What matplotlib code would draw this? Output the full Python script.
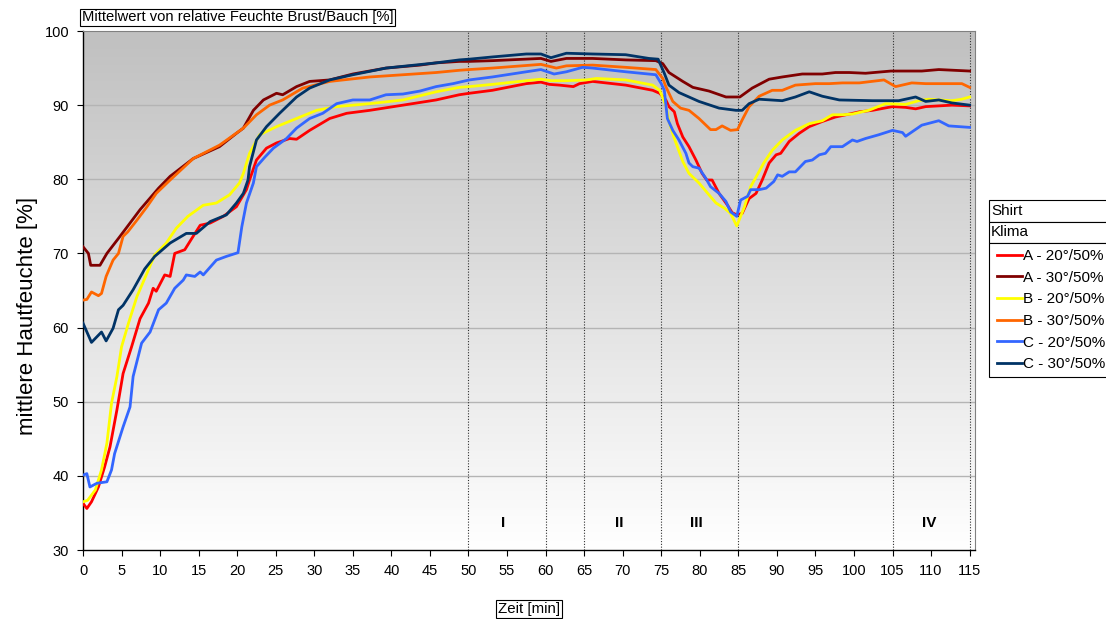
import numpy as np
import matplotlib
matplotlib.use("Agg")
import matplotlib.pyplot as plt
from matplotlib.colors import LinearSegmentedColormap
from matplotlib.patches import Rectangle

plt.rcParams['font.family'] = ['Liberation Sans', 'DejaVu Sans']

# Zeitachse [min] und mittlere Hautfeuchte [%] je Shirt/Klima
t_a20 = [0, 0.5, 1.1, 2.0, 2.8, 3.5, 4.4, 5.2, 6.3, 7.4, 8.5, 9.1, 9.5, 10.6, 11.3, 11.9,
         13.2, 14.1, 15.2, 16.5, 18.2, 19.9, 21.2, 21.6, 22.5, 23.8, 25.1, 26.8, 27.7, 29.4,
         32.0, 34.2, 37.2, 41.5, 45.8, 48.8, 50.1, 53.1, 57.5, 59.4, 60.5, 61.8, 63.6, 64.4,
         66.1, 70.4, 73.9, 74.8, 75.6, 76.0, 76.7, 77.1, 77.8, 78.6, 79.5, 80.3, 80.9, 81.6,
         82.5, 83.6, 84.2, 84.8, 85.5, 86.4, 87.3, 88.1, 89.0, 89.9, 90.5, 91.6, 92.9, 94.2,
         95.9, 97.6, 99.4, 100.7, 102.4, 105.0, 106.7, 108.0, 109.3, 111.0, 112.7, 115.0]
h_a20 = [36.3, 35.6, 36.5, 38.5, 41.2, 43.9, 48.9, 53.8, 57.4, 61.2, 63.3, 65.3, 64.9, 67.1, 66.9, 70.0,
         70.5, 72.0, 73.8, 74.1, 75.0, 76.3, 78.6, 79.9, 82.6, 84.2, 84.9, 85.5, 85.4, 86.6,
         88.2, 88.9, 89.3, 90.0, 90.7, 91.4, 91.6, 92.0, 92.9, 93.1, 92.8, 92.7, 92.5, 92.9,
         93.2, 92.7, 92.0, 91.6, 90.7, 89.8, 89.1, 87.5, 85.7, 84.4, 82.6, 80.8, 79.9, 79.9,
         78.1, 76.5, 75.5, 75.2, 75.4, 77.4, 78.1, 79.9, 82.2, 83.3, 83.5, 85.1, 86.2, 87.1,
         87.8, 88.4, 88.8, 89.1, 89.3, 89.8, 89.7, 89.5, 89.8, 89.9, 90.0, 89.9]

t_a30 = [0, 0.7, 1.0, 2.2, 3.1, 4.8, 7.4, 9.8, 11.3, 14.3, 17.7, 19.9, 20.8, 22.1, 23.4, 25.1,
         25.9, 27.7, 29.4, 32.0, 35.0, 39.3, 43.7, 45.8, 48.8, 50.1, 53.1, 59.4, 60.7, 62.7,
         66.1, 70.4, 74.3, 75.2, 76.0, 77.8, 79.1, 81.2, 83.4, 84.7, 85.2, 86.8, 89.0, 90.7,
         93.3, 95.9, 97.6, 99.4, 101.5, 104.8, 108.8, 111.0, 115.0]
h_a30 = [70.9, 70.0, 68.4, 68.4, 70.0, 72.3, 75.9, 78.8, 80.4, 82.8, 84.4, 86.2, 86.9, 89.3, 90.7, 91.6,
         91.4, 92.5, 93.2, 93.4, 94.2, 95.0, 95.4, 95.7, 95.9, 95.9, 96.0, 96.3, 95.9, 96.3,
         96.3, 96.1, 96.0, 95.6, 94.4, 93.2, 92.4, 91.9, 91.1, 91.1, 91.1, 92.3, 93.5, 93.8,
         94.2, 94.2, 94.4, 94.4, 94.3, 94.6, 94.6, 94.8, 94.6]

t_b20 = [0, 0.6, 1.6, 2.4, 3.1, 3.7, 4.4, 5.0, 5.9, 7.0, 8.0, 9.3, 10.8, 12.1, 13.6, 15.6,
         17.3, 19.0, 20.3, 20.8, 21.6, 22.9, 25.1, 27.7, 30.3, 32.9, 37.2, 41.5, 45.8, 48.8,
         50.1, 53.1, 57.5, 59.4, 60.7, 62.7, 65.3, 66.6, 70.4, 73.9, 74.8, 75.6, 76.0, 76.7,
         77.8, 78.6, 79.9, 81.2, 82.1, 83.2, 84.0, 84.8, 85.8, 86.6, 87.3, 88.3, 89.4, 90.7,
         92.4, 94.2, 95.9, 97.2, 98.5, 99.8, 101.9, 104.1, 106.7, 108.4, 109.7, 111.0, 112.7,
         114.0, 115.0]
h_b20 = [36.5, 36.7, 38.1, 40.8, 44.4, 49.8, 53.4, 57.4, 60.6, 64.2, 66.6, 69.8, 71.4, 73.4, 75.0, 76.5,
         76.8, 77.9, 79.5, 80.8, 83.5, 86.0, 87.1, 88.2, 89.3, 89.8, 90.2, 90.7, 91.8, 92.4,
         92.5, 92.8, 93.3, 93.5, 93.3, 93.3, 93.4, 93.6, 93.4, 92.7, 92.0, 90.0, 87.8, 85.5,
         82.4, 80.8, 79.5, 77.9, 76.8, 76.1, 75.4, 73.7, 76.3, 79.0, 80.3, 82.2, 83.9, 85.3,
         86.6, 87.5, 87.9, 88.7, 88.7, 88.8, 89.3, 90.2, 90.1, 90.6, 90.8, 90.7, 90.6,
         90.8, 91.1]

t_b30 = [0, 0.5, 1.1, 2.0, 2.4, 3.0, 3.9, 4.6, 5.2, 5.8, 7.0, 8.3, 9.5, 11.3, 14.3, 17.7,
         20.8, 22.5, 24.2, 25.9, 28.5, 32.0, 37.2, 41.5, 45.8, 48.8, 50.1, 53.1, 59.4, 61.4,
         62.7, 66.1, 70.4, 74.3, 75.2, 75.6, 76.5, 77.5, 78.6, 79.9, 81.4, 82.1, 82.9, 84.0,
         84.9, 85.5, 86.4, 87.7, 89.4, 90.7, 92.4, 95.0, 96.8, 98.5, 100.7, 103.9, 105.4,
         107.5, 109.3, 111.0, 114.0, 115.0]
h_b30 = [63.7, 63.8, 64.8, 64.3, 64.6, 66.9, 69.1, 70.0, 72.3, 72.9, 74.5, 76.3, 78.1, 79.9, 82.8, 84.6,
         86.9, 88.7, 90.0, 90.7, 92.3, 93.2, 93.8, 94.1, 94.4, 94.7, 94.8, 95.0, 95.5, 95.0,
         95.3, 95.4, 95.1, 94.8, 93.6, 92.5, 90.5, 89.6, 89.3, 88.2, 86.7, 86.7, 87.2, 86.6,
         86.7, 88.0, 89.8, 91.2, 92.0, 92.0, 92.7, 92.9, 92.9, 93.0, 93.0, 93.4, 92.5,
         93.0, 92.9, 92.9, 92.9, 92.4]

t_c20 = [0, 0.5, 0.9, 1.8, 3.1, 3.7, 4.1, 5.2, 6.1, 6.5, 7.6, 8.7, 9.8, 10.8, 11.9, 13.0,
         13.4, 14.5, 15.2, 15.6, 17.3, 18.6, 20.1, 20.6, 21.2, 22.1, 22.5, 23.6, 24.7, 26.4,
         27.7, 29.4, 31.1, 32.9, 35.0, 37.2, 39.3, 41.5, 43.7, 45.8, 48.0, 50.1, 53.1, 57.5,
         59.4, 61.1, 62.7, 64.8, 66.1, 70.4, 74.3, 75.0, 75.4, 75.8, 76.5, 77.3, 78.2, 78.6,
         79.1, 79.9, 80.8, 81.4, 82.5, 83.4, 84.0, 84.8, 85.3, 86.2, 86.6, 87.7, 88.6, 89.6,
         90.1, 90.7, 91.6, 92.4, 93.7, 94.6, 95.5, 96.3, 97.0, 98.5, 99.8, 100.4, 101.5,
         103.2, 105.0, 106.3, 106.7, 108.8, 111.0, 112.3, 115.0]
h_c20 = [40.1, 40.3, 38.5, 39.0, 39.2, 40.8, 43.0, 46.6, 49.3, 53.4, 57.9, 59.4, 62.4, 63.3, 65.3, 66.4,
         67.1, 66.9, 67.5, 67.1, 69.1, 69.6, 70.1, 73.6, 76.8, 79.5, 81.7, 83.0, 84.2, 85.5,
         86.9, 88.2, 88.9, 90.2, 90.7, 90.7, 91.4, 91.5, 91.9, 92.5, 92.9, 93.4, 93.8, 94.5,
         94.8, 94.2, 94.5, 95.1, 95.0, 94.5, 94.1, 92.9, 92.0, 88.2, 86.6, 85.3, 83.5, 82.2,
         81.7, 81.5, 80.1, 79.0, 78.1, 77.0, 75.6, 75.0, 77.2, 77.7, 78.6, 78.6, 78.8, 79.7,
         80.6, 80.4, 81.0, 81.0, 82.4, 82.6, 83.3, 83.5, 84.4, 84.4, 85.3, 85.1, 85.5,
         86.0, 86.6, 86.3, 85.8, 87.3, 87.9, 87.2, 87.0]

t_c30 = [0, 1.1, 2.4, 3.0, 3.9, 4.6, 5.2, 6.5, 8.0, 9.3, 11.3, 13.4, 14.7, 16.5, 18.6, 19.9,
         20.8, 21.4, 21.6, 22.5, 23.8, 25.5, 27.7, 29.4, 32.0, 35.0, 39.3, 45.8, 48.8, 50.1,
         53.1, 57.5, 59.4, 60.7, 62.7, 66.1, 70.4, 73.4, 74.6, 75.4, 76.0, 77.3, 79.9, 82.5,
         84.7, 85.5, 86.4, 87.7, 90.7, 92.4, 94.2, 95.9, 98.1, 102.4, 105.8, 108.0, 109.3,
         111.0, 112.7, 115.0]
h_c30 = [60.6, 58.0, 59.4, 58.2, 59.9, 62.4, 63.0, 65.1, 67.9, 69.6, 71.4, 72.7, 72.7, 74.3, 75.2, 76.8,
         78.1, 79.9, 81.7, 85.3, 87.1, 88.9, 91.1, 92.3, 93.4, 94.1, 95.0, 95.7, 96.1, 96.2,
         96.5, 96.9, 96.9, 96.4, 97.0, 96.9, 96.8, 96.3, 96.2, 94.3, 92.7, 91.7, 90.5, 89.6,
         89.3, 89.3, 90.2, 90.8, 90.6, 91.1, 91.8, 91.2, 90.7, 90.6, 90.6, 91.1, 90.5,
         90.7, 90.3, 90.0]

serien = [
    ("A - 20°/50%", t_a20, h_a20, "#ff0000"),
    ("A - 30°/50%", t_a30, h_a30, "#800000"),
    ("B - 20°/50%", t_b20, h_b20, "#ffff00"),
    ("B - 30°/50%", t_b30, h_b30, "#ff6600"),
    ("C - 20°/50%", t_c20, h_c20, "#3366ff"),
    ("C - 30°/50%", t_c30, h_c30, "#003366"),
]

phasen_grenzen = [50, 60, 65, 75, 85, 105, 115]
phasen = ["I", "II", "III", "IV"]
phasen_x = [54.5, 69.5, 79.6, 109.7]

W, H = 1106, 619
fig = plt.figure(figsize=(W / 100, H / 100), dpi=100)
ax = fig.add_axes([83 / W, 1 - 550 / H, (975 - 83) / W, (550 - 31) / H])

x_max = 115.7
ax.set_xlim(0, x_max)
ax.set_ylim(30, 100)

# grauer Verlauf als Hintergrund
verlauf = LinearSegmentedColormap.from_list("verlauf", ["#c0c0c0", "#ffffff"])
ax.imshow(np.linspace(0, 1, 256).reshape(-1, 1), cmap=verlauf, aspect='auto',
          extent=[0, x_max, 30, 100], origin='upper', zorder=0)

for y in range(40, 100, 10):
    ax.axhline(y, color='#b4b4b4', lw=1, zorder=1)
for x in phasen_grenzen:
    ax.axvline(x, color='#303030', lw=0.8, ls=(0, (1, 1.5)), zorder=1)

linien = []
for name, t, h, farbe in serien:
    ln, = ax.plot(t, h, color=farbe, lw=2, label=name, zorder=3)
    linien.append(ln)

for txt, x in zip(phasen, phasen_x):
    ax.text(x, 33.6, txt, ha='center', va='center', fontsize=11, fontweight='bold')

ax.set_xticks(range(0, 116, 5))
ax.set_yticks(range(30, 101, 10))
ax.tick_params(direction='out', length=4, width=0.8, labelsize=10.5, pad=6)
for s in ['top', 'right']:
    ax.spines[s].set_color('#808080')
ax.spines['left'].set_linewidth(1)
ax.spines['bottom'].set_linewidth(1)

fig.text(28 / W, 1 - 316 / H, "mittlere Hautfeuchte [%]", rotation=90,
         ha='center', va='center', fontsize=16)

box = dict(boxstyle='square,pad=0.12', fc='white', ec='black', lw=0.8)
fig.text(82 / W, 1 - 17.5 / H, "Mittelwert von relative Feuchte Brust/Bauch [%]",
         ha='left', va='center', fontsize=10.6, bbox=box)
fig.text(529 / W, 1 - 609 / H, "Zeit [min]", ha='center', va='center',
         fontsize=10.8, bbox=box)

# Legende mit Kopfzeilen Shirt / Klima
for top, bottom, txt in [(200, 222, "Shirt"), (222, 243, "Klima"), (243, 377, None)]:
    fig.patches.append(Rectangle((989 / W, 1 - bottom / H), 200 / W, (bottom - top) / H,
                                 transform=fig.transFigure, fc='white', ec='black',
                                 lw=0.8, figure=fig))
    if txt:
        fig.text(991 / W, 1 - (top + bottom) / 2 / H, txt, ha='left', va='center', fontsize=11)

fs = 11
pad_px = 0.4 * fs * 100 / 72
fig.legend(handles=linien, loc='upper left', bbox_to_anchor=((997 - pad_px) / W, 1 - 243 / H),
           bbox_transform=fig.transFigure, fontsize=fs, frameon=False,
           borderaxespad=0, borderpad=0.4, handlelength=1.63,
           handletextpad=0.07, labelspacing=0.5)

fig.savefig("out.png", dpi=100)
